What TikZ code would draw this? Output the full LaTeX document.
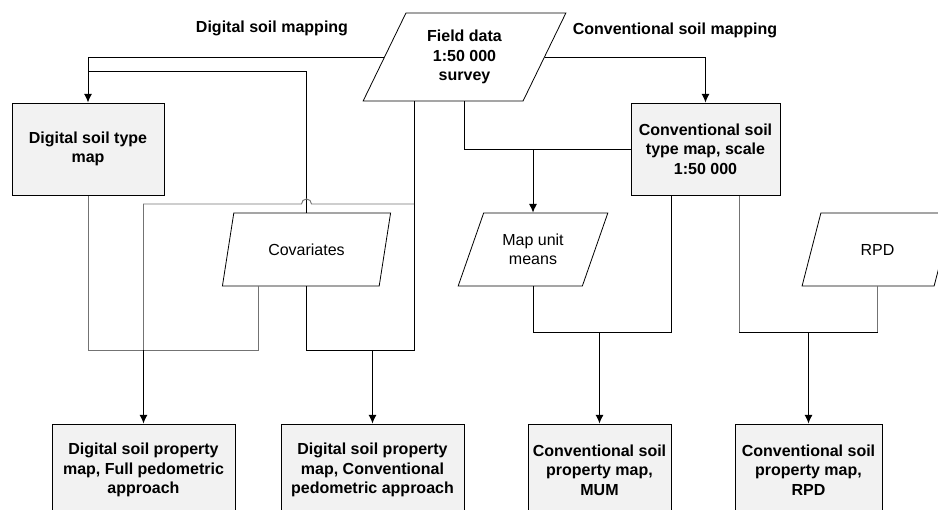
\documentclass[tikz,border=0pt]{standalone}
\usepackage{fontspec}
\setmainfont{Liberation Sans}
\usetikzlibrary{shapes.geometric,arrows.meta}

\begin{document}
\begin{tikzpicture}[x=0.75pt, y=-0.75pt,
                    every node/.style={font=\fontsize{12}{14.5}\selectfont},
                    box/.style={draw, line width=0.75pt, fill=black!5, align=center, inner sep=2pt, minimum height=69pt},
                    data/.style={trapezium, trapezium left angle=63, trapezium right angle=117, trapezium stretches=true,
                                 draw, fill=white, line width=0.6pt, align=center, inner sep=0pt, minimum height=54.75pt},
                    link/.style={line width=0.7pt},
                    glink/.style={link, draw=black!55},
                    arr/.style={link, -{Latex[length=6.5pt, width=6pt]}}]
                    \useasboundingbox (0,0) rectangle (938,510);
                    % headings
                    \node[font=\fontsize{12}{14.5}\selectfont\bfseries] (dsm) at (272,28) {Digital soil mapping};
                    \node[font=\fontsize{12}{14.5}\selectfont\bfseries] (csm) at (675,30) {Conventional soil mapping};
                    % inputs
                    \node[data, minimum width=152.25pt, minimum height=66pt, font=\fontsize{12}{14.5}\selectfont\bfseries] (field) at (464.5,57) {Field data\\1:50 000\\survey};
                    \node[data, minimum width=126.75pt] (cov) at (306.5,249.5) {Covariates};
                    \node[data, minimum width=112.5pt] (mum) at (533,249.5) {Map unit\\means};
                    \node[data, minimum width=113.25pt] (rpd) at (877.5,249.5) {RPD};
                    % maps
                    \node[box, minimum width=114pt, font=\fontsize{12}{14.5}\selectfont\bfseries] (dstm) at (88,149) {Digital soil type\\map};
                    \node[box, minimum width=111.75pt, font=\fontsize{12}{14.5}\selectfont\bfseries] (cstm) at (705.5,149) {Conventional soil\\type map, scale\\1:50 000};
                    \node[box, minimum width=137.25pt, font=\fontsize{12}{14.5}\selectfont\bfseries] (dspmfull) at (143.5,470) {Digital soil property\\map, Full pedometric\\approach};
                    \node[box, minimum width=137.25pt, font=\fontsize{12}{14.5}\selectfont\bfseries] (dspmconv) at (372.5,470) {Digital soil property\\map, Conventional\\pedometric approach};
                    \node[box, minimum width=107.25pt, font=\fontsize{12}{14.5}\selectfont\bfseries] (cspmmum) at (599.5,470) {Conventional soil\\property map,\\MUM};
                    \node[box, minimum width=110.25pt, font=\fontsize{12}{14.5}\selectfont\bfseries] (cspmrpd) at (808.5,470) {Conventional soil\\property map,\\RPD};
                    % junction points
                    \coordinate (jA) at (306,71);
                    \coordinate (jump) at (311.5,204);
                    \coordinate (jE) at (258,350);
                    \coordinate (jC) at (306,350);
                    \coordinate (jF) at (414,350);
                    \coordinate (jR1) at (671,332);
                    \coordinate (jR2) at (739,332);
                    % digital soil mapping
                    \draw[arr] (field.west) -| (dstm.north);
                    \draw[link] (cov.north) |- (dstm.north |- jA);
                    \draw[link] (field.south -| jF) -- (jF) -- (jC) -- (cov.south -| jC);
                    \draw[arr] (dspmconv.north |- jF) -- (dspmconv.north);
                    \draw[glink] (jF |- jump) -- (jump) arc[start angle=0, end angle=-180, radius=5] -- (dspmfull.north |- jump) -- (dspmfull.north |- jE);
                    \draw[glink] (dstm.south) |- (jE) -- (cov.south -| jE);
                    \draw[arr] (dspmfull.north |- jE) -- (dspmfull.north);
                    % conventional soil mapping
                    \draw[arr] (field.east) -| (cstm.north);
                    \draw[link] (field.south) |- (cstm.west);
                    \draw[arr] (mum.north |- cstm.west) -- (mum.north);
                    \draw[link] (cstm.south -| jR1) -- (jR1) -| (mum.south);
                    \draw[arr] (cspmmum.north |- jR1) -- (cspmmum.north);
                    \draw[glink] (cstm.south -| jR2) |- (rpd.south |- jR2) -- (rpd.south);
                    \draw[link] (jR2) -- (rpd.south |- jR2);
                    \draw[arr] (cspmrpd.north |- jR2) -- (cspmrpd.north);
                \end{tikzpicture}
\end{document}
